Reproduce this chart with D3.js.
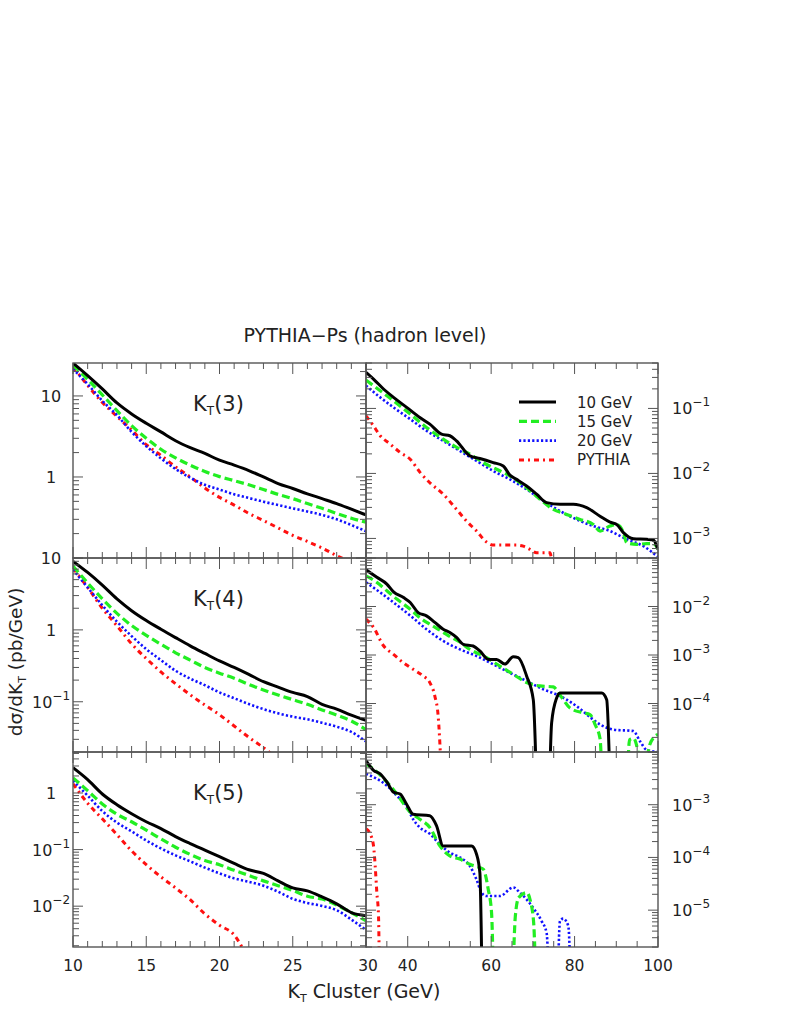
<!DOCTYPE html>
<html><head><meta charset="utf-8">
<script src="https://cdn.jsdelivr.net/npm/d3@7"></script>
<style>
body{margin:0;background:#fff}
svg{display:block}
text{font-family:"DejaVu Sans",sans-serif;fill:#222}
</style>
</head><body>
<svg id="c" width="789" height="1021"></svg>
<script>
// ---------------- DATA ----------------
const seriesNames = ["10 GeV", "15 GeV", "20 GeV", "PYTHIA"];
const panelTags = ["3", "4", "5"];
const xLeft = [10,11,12,13,14,15,16,17,18,19,20,21,22,23,24,25,26,27,28,29,30];
const xLeftTicks = [10, 15, 20, 25, 30];
const xRightTicks = [40, 60, 80, 100];

// K_T(3), left (10-30 GeV)
const kt3L_10GeV = [25.4,17.8,12.2,8.2,6.0,4.6,3.6,2.8,2.3,1.95,1.61,1.4,1.2,1.0,0.83,0.72,0.62,0.54,0.47,0.4,0.34];
const kt3L_15GeV = [24,16,10.3,6.6,4.3,3.0,2.2,1.72,1.4,1.17,1.01,0.9,0.8,0.7,0.61,0.54,0.47,0.41,0.355,0.31,0.277];
const kt3L_20GeV = [21.5,14,8.7,5.8,3.6,2.4,1.7,1.25,0.98,0.8,0.7,0.61,0.55,0.495,0.45,0.41,0.375,0.34,0.3,0.255,0.214];
const kt3L_PYTHIA = [23,13.5,8.3,5.6,3.8,2.5,1.85,1.33,1.0,0.73,0.56,0.45,0.355,0.29,0.235,0.19,0.16,0.133,0.107,0.088];

// K_T(4), left
const kt4L_10GeV = [9.0,6.3,4.2,2.7,1.85,1.35,1.02,0.78,0.6,0.47,0.37,0.30,0.24,0.19,0.16,0.135,0.118,0.092,0.079,0.065,0.055];
const kt4L_15GeV = [7.7,4.5,2.7,1.7,1.15,0.84,0.63,0.48,0.38,0.30,0.25,0.212,0.174,0.146,0.124,0.107,0.092,0.077,0.065,0.054,0.041];
const kt4L_20GeV = [6.9,3.9,2.2,1.3,0.82,0.54,0.38,0.27,0.21,0.17,0.135,0.112,0.093,0.079,0.069,0.062,0.057,0.051,0.045,0.038,0.028];
const kt4L_PYTHIA = [7.2,3.9,2.0,1.14,0.64,0.40,0.26,0.178,0.125,0.09,0.066,0.046,0.032,0.023,0.016];

// K_T(5), left
const kt5L_10GeV = [2.8,1.72,0.96,0.62,0.43,0.31,0.235,0.17,0.128,0.098,0.075,0.057,0.044,0.038,0.028,0.021,0.0186,0.0146,0.011,0.0077,0.0068];
const kt5L_15GeV = [1.85,1.1,0.64,0.42,0.31,0.22,0.155,0.11,0.082,0.064,0.054,0.043,0.035,0.028,0.023,0.019,0.015,0.0134,0.0105,0.0077,0.0055];
const kt5L_20GeV = [1.65,0.9,0.48,0.3,0.21,0.145,0.105,0.079,0.062,0.048,0.038,0.031,0.027,0.023,0.018,0.0135,0.0114,0.0101,0.0085,0.0058,0.0038];
const kt5L_PYTHIA = [1.45,0.66,0.35,0.184,0.095,0.054,0.033,0.021,0.013,0.0073,0.0046,0.0031,0.0011];

// K_T(3), right (30-100 GeV) as [x, y] points
const kt3R_10GeV = [[30,0.359],[31.8,0.283],[34.2,0.199],[36.6,0.148],[39.75,0.104],[42.9,0.0726],[45.3,0.0573],[48.1,0.0402],[50.1,0.038],[51.7,0.0317],[54.9,0.0186],[57.3,0.017],[60.5,0.0147],[62.9,0.013],[64.5,0.0094],[66.1,0.0081],[68.5,0.0064],[70.9,0.0048],[73.3,0.00356],[76.5,0.00335],[79.7,0.00335],[82.9,0.00297],[86.1,0.0022],[88.5,0.00178],[90.1,0.00164],[91.7,0.00123],[94.1,0.00099],[97.3,0.00097],[98.9,0.00095],[99.7,0.00076],[100,0.00068]];
const kt3R_15GeV = [[30,0.273],[33.4,0.1875],[36.6,0.131],[40.6,0.0818],[44.5,0.051],[48.5,0.0337],[52.5,0.0236],[54.9,0.0198],[58.1,0.0147],[61.3,0.0116],[64.5,0.0091],[68.5,0.006],[71.7,0.004],[74.9,0.0028],[78.1,0.00234],[81.3,0.00196],[84.5,0.00164],[86.1,0.0013],[88.5,0.00155],[90.1,0.00164],[91.7,0.00123],[92.5,0.00086],[94.9,0.00081],[97.3,0.00083],[98.9,0.00083],[100,0.00069]];
const kt3R_20GeV = [[30,0.224],[33.4,0.148],[36.6,0.1036],[40.6,0.0684],[44.5,0.0453],[48.5,0.0317],[52.5,0.0222],[56.5,0.0156],[60.5,0.0109],[64.5,0.0081],[68.5,0.0057],[72.5,0.00377],[76.5,0.00264],[80.5,0.00196],[84.5,0.00155],[88.5,0.0013],[92.5,0.00097],[96.5,0.00076],[100,0.00052]];
const kt3R_PYTHIA = [[30,0.077],[31.8,0.054],[33.4,0.038],[35.8,0.0283],[38.2,0.021],[40.6,0.0165],[43,0.0103],[45.3,0.0072],[48.5,0.0048],[51.7,0.0028],[54.1,0.00185],[56.5,0.0013],[58.9,0.00088],[60.5,0.00079],[66.1,0.00079],[67.7,0.00076],[69.3,0.00068],[70.9,0.0006],[74.1,0.0006],[74.6,0.0004]];

// K_T(4), right
const kt4R_10GeV = [[30,0.057],[32.6,0.040],[35,0.029],[36.6,0.020],[39,0.0153],[40.6,0.0121],[42.5,0.0075],[44.5,0.0064],[46.5,0.0047],[48.5,0.0034],[50.1,0.0029],[51.7,0.0023],[53.3,0.00166],[55.7,0.00153],[57.3,0.00121],[59.3,0.00081],[61.3,0.00081],[63.3,0.00065],[65.3,0.00092],[66.5,0.00088],[68.5,0.00037],[70.1,0.00012],[71.6,1e-7],[73.4,1e-7],[74.5,4e-5],[75.7,0.00013],[76.5,0.000165],[86.5,0.000165],[87.7,0.00012],[89.2,1e-7],[100,1e-7]];
const kt4R_15GeV = [[30,0.043],[32.6,0.0314],[35,0.0211],[37.4,0.0142],[40.6,0.0088],[42.9,0.0059],[45.3,0.0043],[48.1,0.0031],[50.5,0.0023],[52.5,0.00186],[54.9,0.0013],[57.3,0.00103],[58.9,0.00088],[62.1,0.00059],[65.3,0.0004],[68.5,0.00027],[71.7,0.00023],[74.9,0.00022],[76.5,0.00015],[78.9,8.1e-5],[82.1,6.4e-5],[83.7,5.9e-5],[84.9,3.7e-5],[86.1,1.9e-5],[87.3,1e-7],[91.9,1e-7],[93.2,1.8e-5],[94.2,1.9e-5],[95.5,8e-6],[96.7,3e-6],[97.8,1.2e-5],[99,2e-5],[100,2.3e-5]];
const kt4R_20GeV = [[30,0.0314],[33.4,0.0195],[36.6,0.0121],[40.6,0.0065],[44.5,0.0034],[48.5,0.00195],[52.5,0.00131],[56.5,0.00095],[60.5,0.00064],[64.5,0.00043],[68.5,0.00029],[72.5,0.000196],[75.7,0.000154],[80.5,8.8e-5],[84,5e-5],[86.1,3.7e-5],[89.3,2.9e-5],[94.1,2.7e-5],[95.7,1.66e-5],[97.3,1.1e-5],[100,1.0e-5]];
const kt4R_PYTHIA = [[30,0.0055],[31.8,0.0037],[34.2,0.00155],[36.6,0.00103],[39,0.00069],[41.4,0.0005],[43.7,0.00037],[45.3,0.00027],[46.5,0.000142],[47.3,5.5e-5],[48.1,3e-6]];

// K_T(5), right
const kt5R_10GeV = [[30,0.0069],[31.8,0.0045],[33.4,0.00385],[35,0.0027],[36.6,0.00173],[38.2,0.00159],[39.7,0.00103],[41.3,0.00066],[45.3,0.00062],[46.9,0.0004],[48.5,0.000165],[55.3,0.000165],[56.5,0.000115],[57.3,5.1e-5],[58.1,1e-7],[100,1e-7]];
const kt5R_15GeV = [[30,0.006],[32.6,0.0042],[35,0.0027],[37.4,0.00159],[40.6,0.00072],[42.9,0.00053],[45.3,0.00037],[47.7,0.000166],[50.1,0.000107],[52.5,9.3e-5],[54.9,7.4e-5],[57.3,6.4e-5],[58.1,6e-5],[59.3,2.5e-5],[60.1,8.9e-6],[60.9,1e-7],[64.7,1e-7],[65.8,7.7e-6],[66.6,1.73e-5],[68.6,2.15e-5],[69.4,1.5e-5],[70.2,5.7e-6],[71.1,1e-7],[100,1e-7]];
const kt5R_20GeV = [[30,0.00385],[32.6,0.0031],[35,0.0023],[37.4,0.00148],[39.7,0.00095],[41.3,0.00053],[42.9,0.00037],[45.3,0.00028],[47.7,0.000178],[50.1,0.000124],[52.5,0.0001],[54.9,6.9e-5],[56.5,3.8e-5],[57.7,2.15e-5],[58.9,1.85e-5],[62.1,1.85e-5],[65.3,2.7e-5],[66.9,2.15e-5],[68.5,1.6e-5],[70.1,1.1e-5],[72.1,6.2e-6],[73.3,3.7e-6],[74.3,1e-7],[75.6,1e-7],[76.5,6.2e-6],[77.3,6.9e-6],[78.5,5e-6],[79.5,1e-7],[100,1e-7]];
const kt5R_PYTHIA = [[30,0.00035],[31,0.00028],[31.8,0.000166],[32.2,6.9e-5],[32.6,2.15e-5],[33.0,7.7e-6],[33.3,1e-7]];

// ---------------- LAYOUT ----------------
const svg = d3.select("#c");
const colX = [[73, 366], [366, 658]];
const rowY = [[363, 558], [558, 752], [752, 947]];
const yDomains = [
  [[0.1, 25.5], [5e-4, 0.5]],
  [[0.02, 10], [1e-5, 0.1]],
  [[0.0019, 5.3], [2e-6, 0.01]]
];
const xDomains = [[10, 30], [30, 100]];
const leftSets = [
  [kt3L_10GeV, kt3L_15GeV, kt3L_20GeV, kt3L_PYTHIA],
  [kt4L_10GeV, kt4L_15GeV, kt4L_20GeV, kt4L_PYTHIA],
  [kt5L_10GeV, kt5L_15GeV, kt5L_20GeV, kt5L_PYTHIA]
];
const rightSets = [
  [kt3R_10GeV, kt3R_15GeV, kt3R_20GeV, kt3R_PYTHIA],
  [kt4R_10GeV, kt4R_15GeV, kt4R_20GeV, kt4R_PYTHIA],
  [kt5R_10GeV, kt5R_15GeV, kt5R_20GeV, kt5R_PYTHIA]
];
const styles = [
  {color: "#000000", width: 3, dash: null},
  {color: "#22ee22", width: 3.2, dash: "8,4"},
  {color: "#1010ff", width: 2.6, dash: "2.2,2.2"},
  {color: "#ff1010", width: 3, dash: "5,4,2,4"}
];
const frameColor = "#555";
const defs = svg.append("defs");

function supText(sel, v) {
  const k = Math.round(Math.log10(v));
  if (k === 0) { sel.append("tspan").text("1"); return; }
  sel.append("tspan").text("10");
  if (k !== 1) sel.append("tspan").attr("dy", -8).attr("font-size", 12).text("\u2212" + Math.abs(k));
}
const isDecade = t => Math.abs(Math.log10(t) - Math.round(Math.log10(t))) < 1e-6;

for (let r = 0; r < 3; r++) {
  for (let c = 0; c < 2; c++) {
    const xs = d3.scaleLinear().domain(xDomains[c]).range(colX[c]);
    const ys = d3.scaleLog().domain(yDomains[r][c]).range([rowY[r][1], rowY[r][0]]);
    const g = svg.append("g");
    const x0 = colX[c][0], x1 = colX[c][1], y0 = rowY[r][0], y1 = rowY[r][1];
    const cid = "clip" + r + c;
    defs.append("clipPath").attr("id", cid).append("rect")
      .attr("x", x0).attr("y", y0).attr("width", x1 - x0).attr("height", y1 - y0);

    // curves
    const line = d3.line().x(d => xs(d[0])).y(d => ys(d[1])).curve(d3.curveMonotoneX);
    const sets = c === 0 ? leftSets[r].map(a => a.map((v, i) => [xLeft[i], v])) : rightSets[r];
    const cg = g.append("g").attr("clip-path", "url(#" + cid + ")");
    for (let s = 3; s >= 0; s--) {
      const st = styles[s];
      cg.append("path").attr("d", line(sets[s])).attr("fill", "none")
        .attr("stroke", st.color).attr("stroke-width", st.width)
        .attr("stroke-dasharray", st.dash).attr("stroke-linejoin", "round");
    }

    // y ticks (log)
    const yt = ys.ticks(20);
    yt.forEach(t => {
      const len = isDecade(t) ? 10 : 6;
      const yy = ys(t);
      g.append("line").attr("x1", x0).attr("x2", x0 + len).attr("y1", yy).attr("y2", yy)
        .attr("stroke", frameColor).attr("stroke-width", 1);
      g.append("line").attr("x1", x1).attr("x2", x1 - len).attr("y1", yy).attr("y2", yy)
        .attr("stroke", frameColor).attr("stroke-width", 1);
    });
    // y labels
    const dmin = yDomains[r][c][0], dmax = yDomains[r][c][1];
    yt.filter(t => isDecade(t) && t > dmin * 1.01 && (c === 0 || t < dmax * 0.99))
      .forEach(t => {
        const tx = svg.append("text").attr("y", ys(t) + 6).attr("font-size", 16);
        if (c === 0) tx.attr("x", 51).attr("text-anchor", "middle");
        else tx.attr("x", 672).attr("text-anchor", "start");
        supText(tx, t);
      });

    // x ticks
    const xt = c === 0 ? d3.range(10, 30.5, 1) : d3.range(30, 100.5, 5);
    xt.forEach(t => {
      const major = c === 0 ? (t % 5 === 0) : (t % 20 === 0);
      const len = major ? 11 : 6;
      const xx = xs(t);
      g.append("line").attr("x1", xx).attr("x2", xx).attr("y1", y1).attr("y2", y1 - len)
        .attr("stroke", frameColor).attr("stroke-width", 1);
      g.append("line").attr("x1", xx).attr("x2", xx).attr("y1", y0).attr("y2", y0 + len)
        .attr("stroke", frameColor).attr("stroke-width", 1);
    });

    // frame
    g.append("rect").attr("x", x0).attr("y", y0).attr("width", x1 - x0).attr("height", y1 - y0)
      .attr("fill", "none").attr("stroke", frameColor).attr("stroke-width", 1.4);

    // x labels on bottom row
    if (r === 2) {
      const labs = c === 0 ? xLeftTicks : xRightTicks;
      labs.forEach(t => {
        svg.append("text").attr("x", xs(t) + (c === 0 && t === 30 ? 2 : 0)).attr("y", 971)
          .attr("text-anchor", "middle").attr("font-size", 15.5).text(t);
      });
    }

    // panel label
    if (c === 0) {
      const pl = svg.append("text").attr("x", 193).attr("y", rowY[r][0] + 48).attr("font-size", 21);
      pl.append("tspan").text("K");
      pl.append("tspan").attr("font-size", 12).attr("dy", 4).text("T");
      pl.append("tspan").attr("dy", -4).text("(" + panelTags[r] + ")");
    }

    // legend in top-right
    if (r === 0 && c === 1) {
      seriesNames.forEach((n, i) => {
        const yy = 402 + i * 19.3;
        const st = styles[i];
        svg.append("line").attr("x1", 519).attr("x2", 556).attr("y1", yy).attr("y2", yy)
          .attr("stroke", st.color).attr("stroke-width", st.width).attr("stroke-dasharray", st.dash);
        svg.append("text").attr("x", 577).attr("y", yy + 5.5).attr("font-size", 15).text(n);
      });
    }
  }
}

// Titles
svg.append("text").attr("x", 365).attr("y", 342).attr("text-anchor", "middle")
  .attr("font-size", 19).attr("fill", "#333").text("PYTHIA\u2212Ps (hadron level)");

const xt = svg.append("text").attr("x", 364).attr("y", 998).attr("text-anchor", "middle").attr("font-size", 19);
xt.append("tspan").text("K");
xt.append("tspan").attr("font-size", 11).attr("dy", 4).text("T");
xt.append("tspan").attr("dy", -4).text(" Cluster (GeV)");

const yt = svg.append("text").attr("transform", "translate(22,662) rotate(-90)")
  .attr("text-anchor", "middle").attr("font-size", 18.5);
yt.append("tspan").text("d\u03c3/dK");
yt.append("tspan").attr("font-size", 11).attr("dy", 4).text("T");
yt.append("tspan").attr("dy", -4).text(" (pb/GeV)");
</script>
</body></html>
